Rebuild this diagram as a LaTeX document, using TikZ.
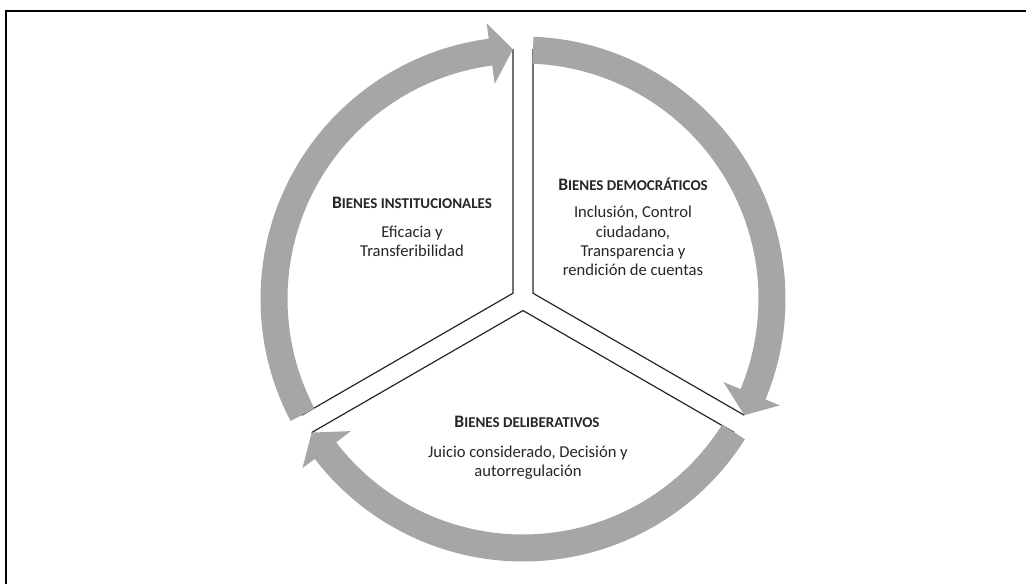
\documentclass[tikz,border=0pt]{standalone}
\usepackage{fontspec}
\setmainfont{Carlito}
\definecolor{ringgray}{HTML}{A6A6A6}
\definecolor{inkdark}{HTML}{262626}
% first letter full size, the rest as reduced capitals
\newcommand{\capsword}[2]{#1{\fontsize{15}{17}\selectfont #2}}
\tikzset{
  ring/.style={fill=ringgray, draw=none},
  divider/.style={draw=inkdark, line width=1.2pt, line join=miter},
  frameline/.style={draw=black, line width=2pt, line join=miter},
  headtext/.style={font=\fontsize{17.5}{20}\selectfont\bfseries, inner sep=0pt, text=inkdark},
  bodytext/.style={font=\fontsize{16.6}{19.3}\selectfont, align=center, inner sep=0pt, text=inkdark},
}
\begin{document}
\begin{tikzpicture}[x=1pt, y=1pt]
  \useasboundingbox (-523,-285) rectangle (503,299);
  \fill[white] (-523,-285) rectangle (503,299);
  \coordinate (c) at (0,0);

  % outer frame (open at right and bottom)
  \draw[frameline] (503,287.5) -- (-516.5,287.5) -- (-516.5,-285);

  % the three sector borders (Y-shaped gaps)
  \draw[divider] (207.71:250) -- (150:11.55) -- (92.29:250);
  \draw[divider] (87.71:250) -- (30:11.55) -- (-27.71:250);
  \draw[divider] (-32.29:250) -- (-90:11.55) -- (-147.71:250);

  % three curved arrows running clockwise
  \foreach \s in {207.7, 87.7, -32.3} {
    \pgfmathsetmacro{\b}{\s-110.2}
    \pgfmathsetmacro{\t}{\s-115.4}
    \fill[ring] (\s:262.5) arc[start angle=\s, end angle=\b, radius=262.5]
      -- (\b:278) -- (\t:250) -- (\b:217) -- (\b:235.5)
      arc[start angle=\b, end angle=\s, radius=235.5] -- cycle;
  }

  % sector texts
  \node[headtext] (hinst) at (-111,95.7) {\capsword{B}{IENES INSTITUCIONALES}};
  \node[bodytext] (binst) at (-111,58) {Eficacia y\\Transferibilidad};

  \node[headtext] (hdemo) at (110,115) {\capsword{B}{IENES DEMOCRÁTICOS}};
  \node[bodytext] (bdemo) at (110,58) {Inclusión, Control\\ciudadano,\\Transparencia y\\rendición de cuentas};

  \node[headtext] (hdeli) at (4,-122.7) {\capsword{B}{IENES DELIBERATIVOS}};
  \node[bodytext] (bdeli) at (5,-164) {Juicio considerado, Decisión y\\autorregulación};
\end{tikzpicture}
\end{document}
